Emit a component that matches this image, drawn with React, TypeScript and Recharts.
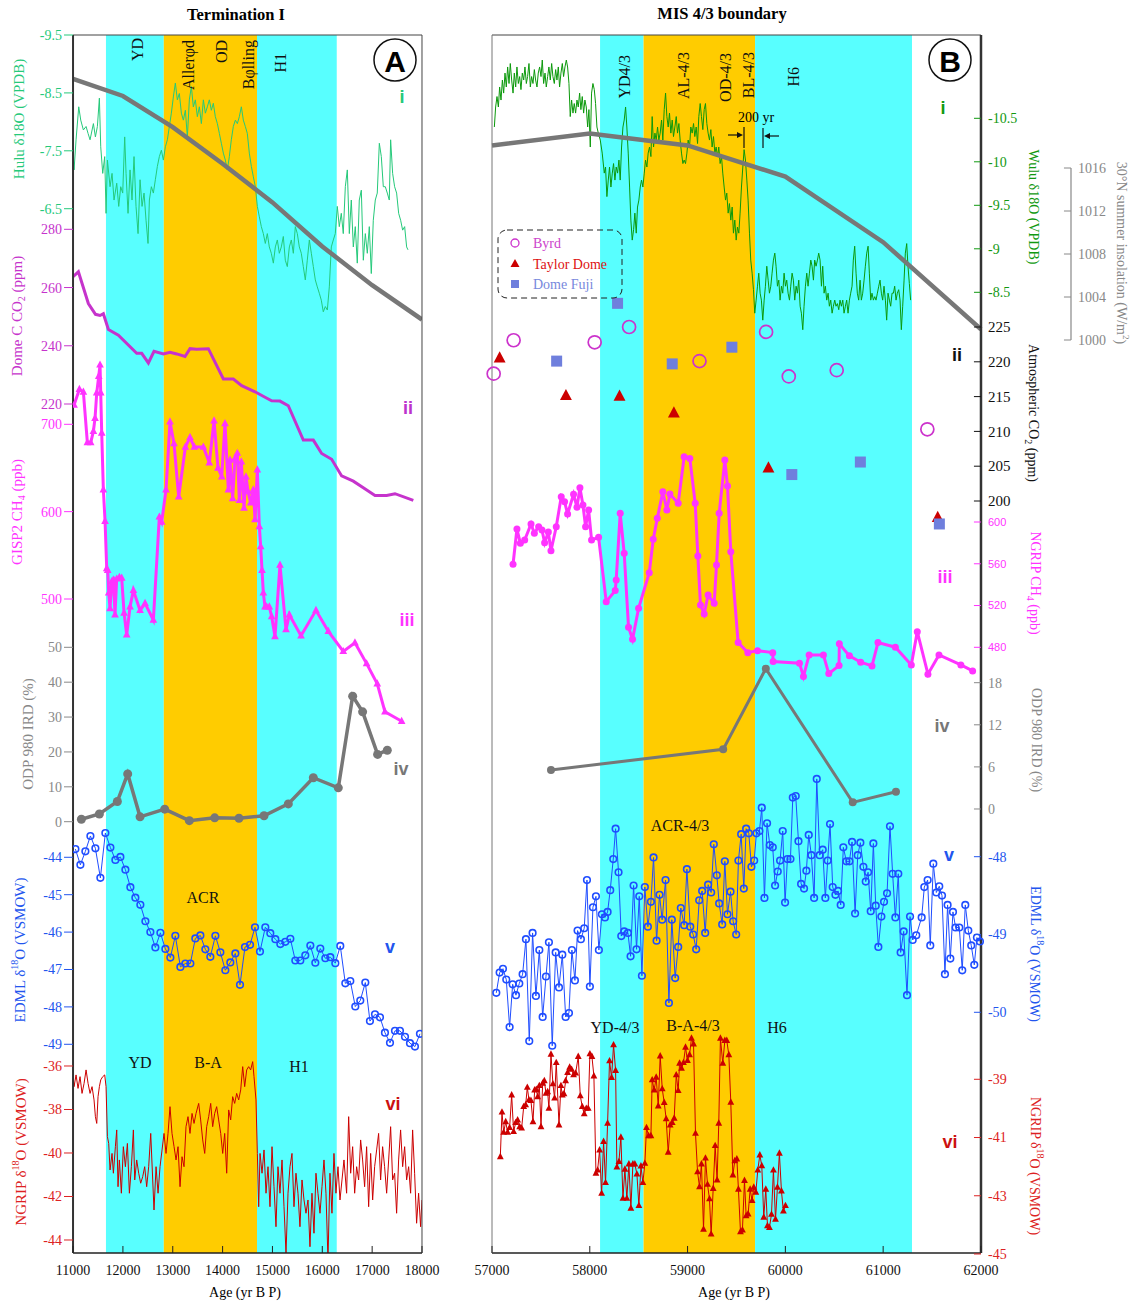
import React from "react";
import { ComposedChart, Line, Scatter, XAxis, YAxis, ReferenceArea } from "recharts";

type Pt = [number, number];
type Cal = [number, number, number, number];

// ---------- Panel A: Termination I ----------
const ageTicksA = [11000, 12000, 13000, 14000, 15000, 16000, 17000, 18000];
const bandsA: Pt[] = [[11660, 12820], [12820, 14690], [14690, 16290]];
const huluTicksA = [-9.5, -8.5, -7.5, -6.5];
const co2TicksA = [280, 260, 240, 220];
const ch4TicksA = [700, 600, 500];
const irdTicksA = [50, 40, 30, 20, 10, 0];
const edmlTicksA = [-44, -45, -46, -47, -48, -49];
const ngripTicksA = [-36, -38, -40, -42, -44];

const huluA: Pt[] = [
  [11000, -7.4], [11020, -7.17], [11060, -7.69], [11114, -8.26], [11154, -8.03], [11207, -7.86], [11261, -7.92], [11301, -7.8],
  [11341, -7.69], [11408, -7.97], [11448, -7.74], [11488, -7.92], [11528, -8.41], [11555, -7.57], [11595, -7.11], [11635, -7.4],
  [11662, -6.42], [11689, -7.34], [11742, -6.88], [11782, -7.11], [11822, -6.65], [11876, -6.94], [11916, -6.54], [11956, -6.88],
  [11996, -6.77], [12036, -7.74], [12063, -7.11], [12103, -6.42], [12143, -7.17], [12183, -6.65], [12223, -7.4], [12263, -6.54],
  [12304, -6.07], [12344, -7.0], [12384, -6.54], [12424, -6.77], [12464, -6.3], [12504, -5.9], [12531, -6.65], [12571, -6.88],
  [12611, -6.77], [12651, -7.0], [12691, -7.23], [12731, -7.4], [12772, -7.51], [12812, -7.34], [12852, -7.57], [12892, -7.69],
  [12932, -7.92], [12972, -8.15], [13012, -8.43], [13052, -8.67], [13092, -8.38], [13132, -8.49], [13173, -8.15], [13213, -8.03],
  [13253, -8.2], [13293, -7.74], [13333, -8.38], [13373, -8.61], [13413, -8.26], [13453, -8.38], [13493, -8.09], [13534, -8.26],
  [13574, -7.97], [13614, -8.38], [13654, -8.15], [13694, -8.26], [13734, -8.38], [13774, -8.2], [13814, -8.32], [13854, -8.09],
  [13895, -7.97], [13935, -7.8], [13975, -7.63], [14015, -7.46], [14055, -7.34], [14095, -7.17], [14135, -7.4], [14175, -7.69],
  [14215, -7.92], [14256, -8.03], [14296, -7.97], [14336, -8.09], [14376, -8.26], [14416, -8.03], [14456, -7.92], [14496, -7.8],
  [14536, -7.46], [14577, -7.23], [14617, -7.05], [14657, -6.88], [14697, -6.54], [14737, -6.36], [14777, -6.19], [14817, -6.07],
  [14857, -5.9], [14897, -6.07], [14937, -5.84], [14977, -5.73], [15018, -5.56], [15058, -5.84], [15098, -5.96], [15138, -5.73],
  [15178, -5.84], [15218, -6.02], [15258, -5.61], [15298, -5.5], [15339, -5.84], [15379, -5.96], [15419, -5.73], [15459, -6.19],
  [15499, -6.07], [15539, -5.84], [15579, -5.73], [15619, -5.5], [15659, -5.27], [15699, -5.61], [15740, -5.96], [15780, -5.73],
  [15820, -5.5], [15860, -5.27], [15900, -5.15], [15940, -5.04], [15980, -4.92], [16020, -4.72], [16061, -4.81], [16101, -4.75],
  [16141, -5.15], [16181, -5.84], [16221, -5.96], [16261, -6.07], [16301, -6.54], [16341, -6.19], [16381, -6.42], [16421, -6.07],
  [16462, -6.88], [16502, -7.17], [16542, -6.07], [16582, -6.65], [16622, -5.84], [16662, -6.19], [16702, -5.56], [16742, -6.65],
  [16783, -6.82], [16823, -5.61], [16863, -6.07], [16903, -5.73], [16943, -6.19], [16983, -5.38], [17023, -6.3], [17063, -6.65],
  [17103, -6.77], [17144, -7.63], [17184, -7.4], [17224, -6.88], [17264, -6.88], [17304, -6.77], [17344, -6.65], [17371, -7.69],
  [17411, -7.11], [17451, -6.88], [17491, -6.77], [17532, -6.42], [17572, -6.3], [17612, -6.13], [17652, -6.19], [17692, -5.84],
  [17719, -5.79],
];

const insolA: Pt[] = [
  [11000, 1024.3], [12000, 1022.7], [13000, 1019.8], [14000, 1016.4], [15000, 1012.8], [16000, 1008.7], [17000, 1005.1], [18000, 1001.9],
];

const co2A: Pt[] = [
  [11000, 263.7], [11107, 265.4], [11307, 254.5], [11450, 250.8], [11541, 250.4], [11608, 251.0], [11709, 245.6], [11909, 243.6],
  [12277, 237.4], [12377, 237.4], [12511, 234.1], [12624, 238.1], [12812, 237.2], [12945, 237.8], [13079, 237.2], [13246, 236.3],
  [13346, 239.0], [13480, 238.8], [13714, 239.0], [14015, 228.6], [14215, 228.6], [14383, 226.3], [14650, 224.2], [14851, 222.3],
  [14984, 221.1], [15151, 221.0], [15318, 219.4], [15619, 207.6], [15820, 207.6], [15987, 203.0], [16188, 201.0], [16388, 195.3],
  [16622, 193.5], [16823, 191.2], [17057, 188.6], [17291, 188.6], [17458, 189.2], [17826, 186.9],
];

const ch4A: Pt[] = [
  [11020, 722], [11127, 740], [11207, 737], [11287, 679], [11354, 679], [11408, 692], [11441, 707], [11475, 736],
  [11515, 755], [11541, 768], [11555, 736], [11575, 690], [11608, 625], [11642, 589], [11675, 535], [11695, 533],
  [11715, 507], [11742, 489], [11775, 520], [11809, 522], [11842, 482], [11875, 523], [11929, 525], [11976, 524],
  [12023, 484], [12076, 459], [12143, 491], [12210, 510], [12344, 487], [12444, 495], [12611, 476], [12731, 594],
  [12778, 588], [12865, 625], [12945, 703], [13025, 678], [13119, 617], [13253, 674], [13346, 685], [13433, 674],
  [13614, 674], [13734, 656], [13828, 704], [13908, 650], [13982, 640], [14048, 701], [14115, 625], [14149, 659],
  [14202, 615], [14249, 661], [14296, 667], [14336, 613], [14376, 657], [14429, 604], [14469, 640], [14510, 623],
  [14563, 610], [14617, 625], [14650, 591], [14697, 648], [14737, 583], [14764, 560], [14791, 533], [14817, 507],
  [14851, 491], [14884, 491], [14937, 491], [14984, 480], [15051, 457], [15151, 539], [15272, 465], [15339, 482],
  [15573, 458], [15873, 487], [16121, 463], [16421, 440], [16655, 450], [16889, 426], [17103, 403], [17257, 371],
  [17592, 360],
];

const irdA: Pt[] = [
  [11167, 0.7], [11528, 2.2], [11889, 5.8], [12096, 13.7], [12344, 1.4], [12838, 3.6], [13333, 0.3], [13841, 1.1],
  [14329, 1.0], [14831, 1.7], [15318, 5.1], [15820, 12.6], [16321, 9.7], [16609, 36.0], [16809, 31.5], [17110, 19.3],
  [17304, 20.5],
];

const edmlA: Pt[] = [
  [11047, -43.78], [11147, -44.2], [11247, -43.84], [11348, -43.43], [11448, -43.76], [11548, -44.55], [11648, -43.35], [11749, -43.74],
  [11849, -44.07], [11949, -43.99], [12050, -44.33], [12150, -44.8], [12250, -45.08], [12350, -45.27], [12451, -45.71], [12551, -46.0],
  [12651, -46.41], [12752, -46.02], [12852, -46.45], [12952, -46.68], [13052, -46.1], [13153, -46.93], [13253, -46.84], [13353, -46.84],
  [13453, -46.17], [13554, -46.09], [13654, -46.46], [13754, -46.66], [13855, -46.1], [13955, -46.54], [14055, -47.02], [14155, -46.81],
  [14256, -46.57], [14349, -47.41], [14449, -46.4], [14550, -46.34], [14650, -45.87], [14750, -46.52], [14857, -45.87], [14957, -46.03],
  [15058, -46.19], [15158, -46.32], [15258, -46.26], [15359, -46.18], [15459, -46.76], [15559, -46.76], [15659, -46.62], [15760, -46.36],
  [15860, -46.82], [15960, -46.44], [16061, -46.7], [16161, -46.67], [16261, -46.83], [16361, -46.37], [16462, -47.37], [16562, -47.31],
  [16662, -47.99], [16762, -47.83], [16863, -47.35], [16956, -48.38], [17057, -48.2], [17157, -48.28], [17257, -48.69], [17358, -48.96],
  [17458, -48.64], [17558, -48.64], [17659, -48.8], [17759, -48.97], [17859, -49.06], [17959, -48.72],
];

const ngripA: Pt[] = [
  [11000, -36.49], [11020, -36.95], [11060, -36.41], [11100, -37.03], [11140, -36.49], [11180, -37.26], [11221, -36.8], [11261, -36.18],
  [11301, -36.8], [11341, -37.26], [11381, -36.95], [11421, -37.56], [11448, -38.33], [11475, -38.64], [11501, -37.41], [11528, -36.95],
  [11555, -36.64], [11595, -36.49], [11635, -36.41], [11662, -36.95], [11689, -39.25], [11715, -39.56], [11742, -40.78], [11782, -40.02],
  [11809, -40.93], [11849, -39.71], [11876, -38.94], [11902, -41.55], [11929, -40.32], [11969, -41.85], [12009, -39.71], [12050, -40.63],
  [12090, -39.56], [12130, -41.85], [12170, -40.63], [12210, -38.94], [12237, -41.24], [12277, -40.32], [12317, -40.93], [12357, -41.39],
  [12397, -41.09], [12437, -40.63], [12477, -41.55], [12517, -40.63], [12558, -39.1], [12598, -41.24], [12624, -42.62], [12665, -40.63],
  [12705, -41.85], [12745, -40.63], [12785, -39.86], [12825, -39.1], [12865, -40.02], [12905, -39.1], [12945, -37.87], [12985, -39.1],
  [13026, -39.71], [13066, -40.32], [13106, -39.71], [13146, -41.55], [13186, -40.17], [13226, -40.63], [13266, -38.79], [13306, -38.33],
  [13346, -39.1], [13387, -38.18], [13427, -38.64], [13467, -38.18], [13520, -37.72], [13560, -38.48], [13601, -39.4], [13641, -40.02],
  [13681, -38.79], [13721, -38.33], [13761, -37.72], [13801, -38.79], [13841, -38.18], [13881, -37.87], [13921, -38.48], [13962, -39.1],
  [14002, -40.02], [14042, -39.1], [14082, -40.93], [14122, -38.02], [14162, -38.48], [14202, -37.41], [14242, -37.72], [14282, -37.26],
  [14323, -37.56], [14363, -37.1], [14403, -36.03], [14443, -36.95], [14483, -36.18], [14523, -36.03], [14563, -36.18], [14603, -35.8],
  [14630, -36.49], [14670, -37.56], [14697, -40.02], [14724, -42.47], [14751, -40.02], [14791, -40.93], [14831, -39.86], [14871, -41.85],
  [14911, -40.63], [14951, -42.47], [14991, -39.71], [15031, -41.55], [15071, -43.39], [15111, -40.63], [15151, -41.85], [15192, -40.32],
  [15232, -42.47], [15272, -44.61], [15312, -41.85], [15352, -40.63], [15392, -40.02], [15432, -42.47], [15472, -40.93], [15512, -41.85],
  [15552, -43.39], [15593, -41.24], [15633, -42.16], [15673, -42.77], [15713, -42.16], [15753, -44.31], [15793, -41.85], [15833, -43.69],
  [15873, -40.93], [15913, -41.85], [15954, -42.77], [15994, -41.55], [16034, -40.32], [16074, -41.85], [16114, -44.92], [16154, -40.93],
  [16194, -42.77], [16234, -40.02], [16274, -41.85], [16315, -40.63], [16355, -42.16], [16395, -41.24], [16435, -40.32], [16488, -41.85],
  [16529, -38.33], [16569, -40.93], [16609, -39.71], [16649, -41.85], [16689, -40.63], [16729, -41.24], [16769, -39.4], [16809, -40.32],
  [16849, -41.55], [16889, -39.71], [16930, -42.47], [16970, -40.02], [17010, -42.16], [17050, -40.63], [17090, -39.86], [17130, -39.1],
  [17170, -41.24], [17210, -39.71], [17250, -40.63], [17291, -41.85], [17331, -40.32], [17371, -38.79], [17411, -41.24], [17451, -40.93],
  [17491, -42.77], [17531, -40.32], [17571, -38.94], [17612, -40.63], [17652, -39.71], [17692, -41.24], [17732, -40.63], [17772, -41.85],
  [17812, -38.94], [17852, -40.93], [17892, -43.23], [17932, -41.85], [17972, -43.39], [17999, -42.16],
];

// ---------- Panel B: MIS 4/3 boundary ----------
const ageTicksB = [57000, 58000, 59000, 60000, 61000, 62000];
const bandsB: Pt[] = [[58105, 58550], [58550, 59690], [59690, 61295]];
const wuluTicksB = [-10.5, -10, -9.5, -9, -8.5];
const insolTicks = [1016, 1012, 1008, 1004, 1000];
const co2TicksB = [225, 220, 215, 210, 205, 200];
const ch4TicksB = [600, 560, 520, 480];
const irdTicksB = [18, 12, 6, 0];
const edmlTicksB = [-48, -49, -50];
const ngripTicksB = [-39, -41, -43, -45];

const wuluB: Pt[] = [
  [57024, -10.4], [57037, -10.63], [57051, -10.75], [57065, -10.63], [57078, -10.86], [57092, -10.71], [57106, -10.94], [57119, -10.79],
  [57133, -11.02], [57146, -10.86], [57160, -11.09], [57174, -10.9], [57187, -11.13], [57201, -10.94], [57215, -10.79], [57228, -11.02],
  [57242, -10.86], [57255, -11.09], [57269, -10.9], [57283, -10.98], [57296, -10.83], [57310, -11.02], [57324, -10.94], [57337, -11.09],
  [57351, -10.9], [57364, -10.98], [57378, -11.13], [57392, -10.86], [57405, -10.98], [57419, -10.9], [57433, -11.06], [57446, -10.94],
  [57460, -10.86], [57473, -11.02], [57487, -11.09], [57501, -10.98], [57514, -11.17], [57528, -10.9], [57542, -11.02], [57555, -10.86],
  [57569, -10.98], [57582, -11.09], [57596, -10.94], [57610, -11.13], [57623, -10.98], [57637, -10.9], [57651, -11.06], [57664, -10.94],
  [57678, -11.09], [57691, -10.86], [57705, -11.02], [57719, -11.13], [57732, -10.98], [57746, -11.09], [57760, -11.17], [57773, -11.09],
  [57787, -10.9], [57800, -10.52], [57814, -10.71], [57828, -10.56], [57841, -10.67], [57855, -10.56], [57869, -10.71], [57882, -10.63],
  [57896, -10.79], [57909, -10.6], [57923, -10.75], [57937, -10.56], [57950, -10.71], [57964, -10.63], [57978, -10.4], [57991, -10.6],
  [58005, -10.17], [58018, -10.79], [58032, -10.9], [58046, -10.83], [58059, -10.67], [58073, -10.4], [58087, -10.33], [58107, -10.25],
  [58127, -10.1], [58148, -9.87], [58161, -9.94], [58175, -9.6], [58189, -9.79], [58202, -9.94], [58216, -9.71], [58230, -9.87],
  [58243, -9.98], [58257, -9.79], [58270, -9.94], [58284, -9.87], [58298, -10.02], [58311, -9.79], [58325, -10.17], [58339, -10.4],
  [58352, -10.48], [58366, -10.63], [58379, -10.4], [58393, -10.1], [58407, -9.71], [58420, -9.33], [58434, -9.1], [58448, -9.22],
  [58461, -9.41], [58475, -9.18], [58488, -9.48], [58502, -9.56], [58516, -9.71], [58529, -9.79], [58543, -9.71], [58557, -9.87],
  [58570, -10.02], [58584, -9.94], [58597, -10.1], [58611, -10.17], [58625, -10.06], [58638, -10.52], [58652, -10.17], [58666, -10.33],
  [58679, -10.25], [58693, -10.4], [58706, -10.25], [58720, -10.33], [58734, -10.48], [58747, -10.25], [58761, -10.6], [58775, -10.79],
  [58788, -10.52], [58802, -10.4], [58815, -10.56], [58829, -10.33], [58843, -10.48], [58856, -10.29], [58870, -10.4], [58884, -10.52],
  [58897, -10.33], [58911, -10.44], [58924, -10.25], [58938, -10.1], [58952, -9.98], [58965, -10.02], [58979, -9.98], [58993, -10.1],
  [59006, -10.25], [59020, -10.17], [59033, -10.4], [59047, -10.33], [59061, -10.44], [59074, -10.29], [59088, -10.4], [59102, -10.21],
  [59115, -10.52], [59129, -10.67], [59142, -10.52], [59156, -10.37], [59170, -10.6], [59183, -10.67], [59197, -10.44], [59210, -10.33],
  [59224, -10.25], [59238, -10.37], [59251, -10.17], [59265, -10.29], [59279, -10.1], [59292, -10.17], [59306, -10.06], [59319, -10.17],
  [59333, -9.98], [59347, -10.06], [59360, -9.87], [59374, -9.71], [59388, -9.56], [59401, -9.64], [59415, -9.41], [59428, -9.52],
  [59442, -9.33], [59456, -9.48], [59469, -9.18], [59483, -9.33], [59497, -9.1], [59510, -9.25], [59524, -9.18], [59537, -9.41],
  [59551, -9.71], [59565, -9.94], [59578, -10.14], [59592, -10.02], [59606, -9.79], [59619, -9.56], [59633, -9.18], [59646, -8.87],
  [59660, -8.72], [59674, -8.53], [59687, -8.26], [59701, -8.41], [59715, -8.57], [59728, -8.72], [59742, -8.49], [59755, -8.41],
  [59769, -8.18], [59783, -8.41], [59796, -8.57], [59810, -8.8], [59824, -8.64], [59837, -8.49], [59851, -8.57], [59864, -8.72],
  [59878, -8.87], [59892, -8.95], [59905, -8.8], [59919, -8.57], [59933, -8.64], [59946, -8.41], [59960, -8.57], [59973, -8.49],
  [59987, -8.72], [60001, -8.57], [60014, -8.64], [60028, -8.49], [60042, -8.41], [60055, -8.57], [60069, -8.72], [60082, -8.64],
  [60096, -8.41], [60110, -8.57], [60123, -8.49], [60137, -8.64], [60151, -8.34], [60164, -8.26], [60178, -8.07], [60191, -8.34],
  [60205, -8.57], [60219, -8.72], [60232, -8.57], [60246, -8.72], [60260, -8.87], [60273, -8.8], [60287, -8.64], [60300, -8.87],
  [60314, -8.8], [60328, -8.87], [60341, -8.95], [60355, -8.87], [60369, -8.57], [60382, -8.8], [60396, -8.49], [60409, -8.57],
  [60423, -8.41], [60437, -8.49], [60450, -8.34], [60464, -8.41], [60478, -8.26], [60491, -8.34], [60505, -8.41], [60518, -8.34],
  [60532, -8.37], [60546, -8.3], [60559, -8.41], [60573, -8.34], [60587, -8.41], [60600, -8.26], [60614, -8.34], [60627, -8.41],
  [60641, -8.26], [60655, -8.41], [60668, -8.49], [60682, -8.57], [60695, -8.87], [60709, -9.03], [60723, -8.72], [60736, -8.49],
  [60750, -8.41], [60764, -8.64], [60777, -8.41], [60791, -8.49], [60805, -8.64], [60818, -8.8], [60832, -8.95], [60846, -9.03],
  [60859, -8.72], [60873, -8.41], [60886, -8.49], [60900, -8.41], [60914, -8.45], [60927, -8.41], [60941, -8.49], [60955, -8.57],
  [60968, -8.64], [60982, -8.49], [60995, -8.41], [61009, -8.57], [61023, -8.41], [61036, -8.18], [61050, -8.49], [61064, -8.41],
  [61077, -8.34], [61091, -8.49], [61105, -8.49], [61118, -8.57], [61132, -8.41], [61145, -8.49], [61159, -8.53], [61173, -8.41],
  [61186, -8.07], [61200, -8.34], [61214, -8.64], [61227, -8.95], [61241, -9.06], [61254, -8.8], [61268, -8.6], [61281, -8.41],
];

const insolB: Pt[] = [[57000, 1018.1], [58000, 1019.2], [59000, 1018.1], [60000, 1015.2], [61000, 1009.1], [62000, 1001.0]];

const co2Byrd: Pt[] = [
  [57017, 218.3], [57221, 223.1], [58050, 222.8], [58402, 225.0], [59122, 220.1], [59803, 224.3], [60035, 217.9], [60525, 218.8], [61452, 210.3],
];
const co2Taylor: Pt[] = [[57078, 220.5], [57756, 215.1], [58304, 215.0], [58860, 212.6], [59827, 204.7], [61558, 197.6]];
const co2Fuji: Pt[] = [[57661, 220.1], [58284, 228.4], [58843, 219.7], [59453, 222.1], [60066, 203.8], [60767, 205.6], [61575, 196.7]];

const ch4B: Pt[] = [
  [57215, 559.5], [57255, 593.3], [57290, 579.6], [57334, 582.8], [57399, 598.1], [57433, 589.2], [57477, 595.5], [57511, 592.3],
  [57538, 580.2], [57576, 590.4], [57603, 572.5], [57657, 595.5], [57708, 624.2], [57742, 619.4], [57773, 607.7], [57834, 626.5],
  [57869, 614.1], [57899, 632.8], [57930, 616.3], [57957, 595.5], [57988, 611.5], [58018, 582.8], [58090, 585.4], [58168, 523.7],
  [58260, 534.3], [58270, 544.5], [58311, 608.3], [58352, 570.0], [58396, 499.2], [58437, 487.7], [58499, 517.4], [58608, 551.5],
  [58649, 583.4], [58690, 603.5], [58747, 629.0], [58788, 611.5], [58819, 626.8], [58904, 617.9], [58965, 662.5], [59023, 660.9],
  [59078, 617.9], [59105, 567.5], [59132, 520.6], [59170, 512.0], [59210, 530.1], [59272, 522.2], [59296, 558.9], [59323, 608.3],
  [59381, 659.3], [59408, 634.4], [59442, 571.6], [59517, 484.5], [59616, 474.9], [59715, 476.8], [59871, 474.9], [59875, 466.3],
  [60144, 464.8], [60185, 452.0], [60243, 472.7], [60389, 472.7], [60444, 454.8], [60549, 462.5], [60552, 483.3], [60655, 471.8],
  [60770, 465.7], [60886, 462.2], [60947, 484.5], [61125, 480.1], [61288, 463.1], [61349, 495.0], [61458, 454.3], [61571, 472.7],
  [61795, 463.1], [61915, 457.4],
];

const irdB: Pt[] = [[57603, 5.56], [59364, 8.5], [59800, 20.0], [60689, 0.95], [61131, 2.46]];

const edmlB: Pt[] = [
  [57044, -49.75], [57078, -49.49], [57112, -49.44], [57146, -49.58], [57180, -50.19], [57211, -49.64], [57245, -49.78], [57279, -49.63],
  [57313, -49.51], [57347, -49.06], [57381, -50.37], [57415, -48.98], [57449, -49.79], [57484, -49.2], [57518, -50.06], [57552, -49.54],
  [57582, -49.1], [57616, -50.43], [57651, -49.23], [57685, -49.68], [57719, -49.26], [57753, -50.06], [57787, -50.01], [57817, -49.2],
  [57848, -49.59], [57875, -48.95], [57909, -49.06], [57943, -48.92], [57971, -48.3], [58001, -49.67], [58032, -48.65], [58063, -48.51],
  [58093, -49.2], [58124, -48.74], [58155, -48.78], [58182, -48.71], [58209, -48.43], [58240, -48.03], [58264, -47.64], [58294, -48.2],
  [58322, -49.02], [58352, -48.96], [58390, -48.98], [58417, -49.28], [58448, -48.37], [58478, -49.19], [58506, -48.51], [58533, -49.53],
  [58563, -48.39], [58594, -48.9], [58625, -48.58], [58652, -48.01], [58683, -49.08], [58713, -48.49], [58740, -48.81], [58775, -48.3],
  [58809, -49.88], [58839, -48.81], [58873, -49.56], [58904, -49.16], [58931, -48.66], [58965, -48.88], [58993, -48.16], [59027, -48.9],
  [59057, -49.0], [59088, -49.19], [59119, -48.56], [59149, -48.44], [59180, -48.98], [59210, -48.36], [59241, -48.46], [59268, -47.84],
  [59299, -48.24], [59323, -48.6], [59354, -48.87], [59381, -48.06], [59408, -48.74], [59439, -48.45], [59466, -48.83], [59497, -49.0],
  [59520, -48.05], [59548, -47.71], [59575, -48.41], [59599, -47.64], [59626, -47.7], [59653, -48.13], [59681, -48.05], [59704, -47.7],
  [59735, -47.67], [59759, -47.37], [59786, -48.53], [59813, -47.57], [59841, -47.85], [59871, -47.88], [59895, -48.37], [59922, -48.19],
  [59946, -48.05], [59973, -47.67], [59997, -48.59], [60021, -48.03], [60052, -48.03], [60076, -47.24], [60106, -47.22], [60134, -47.8],
  [60161, -48.35], [60191, -48.41], [60215, -48.18], [60239, -47.72], [60266, -47.98], [60294, -48.53], [60321, -47.0], [60351, -47.98],
  [60382, -47.91], [60409, -48.53], [60433, -48.05], [60457, -47.58], [60484, -48.39], [60512, -48.49], [60539, -48.44], [60566, -48.62],
  [60593, -47.88], [60624, -48.06], [60655, -48.06], [60682, -47.81], [60713, -48.73], [60740, -47.98], [60767, -47.82], [60798, -48.13],
  [60822, -48.32], [60846, -48.2], [60873, -48.7], [60900, -47.83], [60924, -48.63], [60951, -49.16], [60982, -48.77], [61009, -48.58],
  [61040, -48.47], [61070, -47.61], [61097, -48.22], [61125, -48.78], [61155, -48.22], [61179, -49.23], [61210, -48.96], [61244, -49.78],
  [61275, -48.77], [61302, -49.07], [61339, -49.01], [61394, -48.78], [61421, -48.39], [61455, -48.3], [61482, -49.14], [61513, -48.09],
  [61544, -48.46], [61574, -48.38], [61602, -48.5], [61632, -49.51], [61659, -48.62], [61687, -49.31], [61714, -48.71], [61741, -48.91],
  [61779, -48.91], [61809, -49.46], [61840, -48.62], [61871, -48.95], [61901, -49.14], [61932, -49.39], [61959, -49.04], [61990, -49.09],
];

const ngripB: Pt[] = [
  [57085, -41.66], [57102, -40.13], [57119, -40.82], [57140, -40.46], [57160, -40.82], [57180, -40.66], [57201, -39.54], [57221, -40.8],
  [57242, -40.49], [57262, -40.4], [57283, -40.63], [57303, -40.68], [57324, -39.94], [57344, -39.88], [57361, -39.28], [57378, -39.71],
  [57398, -39.73], [57419, -40.46], [57436, -39.37], [57453, -39.35], [57467, -39.6], [57484, -39.22], [57501, -40.63], [57518, -39.14],
  [57535, -39.05], [57552, -39.48], [57569, -39.43], [57582, -40.0], [57603, -38.14], [57623, -39.16], [57640, -39.65], [57657, -38.43],
  [57685, -40.57], [57705, -39.22], [57719, -39.54], [57736, -39.5], [57753, -39.05], [57773, -38.77], [57794, -38.59], [57814, -38.66],
  [57834, -38.85], [57855, -38.79], [57882, -38.22], [57903, -39.57], [57923, -39.94], [57943, -40.19], [57964, -40.0], [57984, -40.0],
  [58001, -38.13], [58022, -38.22], [58042, -38.89], [58063, -42.23], [58080, -42.12], [58100, -41.43], [58121, -42.92], [58141, -41.14],
  [58161, -42.55], [58182, -40.51], [58202, -38.37], [58223, -38.94], [58243, -37.82], [58264, -38.7], [58277, -42.02], [58298, -41.83],
  [58318, -40.99], [58339, -43.09], [58359, -42.09], [58379, -43.09], [58400, -41.91], [58420, -43.43], [58441, -41.91], [58461, -41.91],
  [58482, -42.26], [58502, -43.34], [58523, -41.98], [58543, -42.55], [58563, -41.89], [58580, -40.66], [58601, -40.94], [58625, -40.94],
  [58638, -39.02], [58659, -39.37], [58679, -38.93], [58700, -39.92], [58720, -38.2], [58741, -39.33], [58761, -39.8], [58781, -40.36],
  [58802, -41.51], [58822, -40.57], [58843, -40.49], [58863, -40.34], [58884, -38.85], [58904, -39.39], [58918, -38.45], [58938, -38.62],
  [58958, -38.43], [58979, -37.9], [58999, -38.36], [59020, -38.16], [59040, -37.59], [59061, -37.79], [59081, -40.86], [59102, -42.18],
  [59122, -42.69], [59142, -41.91], [59163, -44.15], [59183, -41.71], [59204, -42.61], [59224, -43.11], [59241, -44.32], [59262, -42.75],
  [59282, -41.28], [59302, -42.46], [59319, -40.51], [59336, -37.59], [59360, -38.45], [59381, -37.67], [59401, -37.67], [59422, -38.16],
  [59442, -39.79], [59463, -42.29], [59483, -41.8], [59504, -41.74], [59520, -42.78], [59541, -44.24], [59561, -44.18], [59582, -42.48],
  [59599, -43.69], [59619, -43.63], [59640, -42.78], [59660, -43.17], [59677, -42.71], [59698, -42.88], [59718, -42.12], [59739, -41.6],
  [59759, -41.97], [59779, -43.74], [59800, -42.78], [59817, -44.03], [59837, -44.09], [59858, -43.64], [59878, -42.12], [59899, -43.81],
  [59919, -42.71], [59939, -41.54], [59960, -42.84], [59980, -43.53], [60001, -43.34],
];

// ---------- layout ----------
const PLOT_TOP = 35;
const PLOT_BOTTOM = 1253;
const THIN = 0.01; // axes need a positive size to render, but must not push each other aside
const SERIF = "'Liberation Serif', 'Times New Roman', serif";
const SANS = "'Liberation Sans', Arial, sans-serif";
const CYAN = "#58ffff";
const ORANGE = "#ffcc00";

// value/pixel calibration pairs
const CAL = {
  huluA: [-9.5, 35, -6.5, 208.7] as Cal,
  insol: [1016, 168, 1000, 340] as Cal,
  co2A: [280, 229.3, 220, 404] as Cal,
  ch4A: [700, 424.3, 500, 599] as Cal,
  irdA: [50, 647.3, 0, 821.7] as Cal,
  edmlA: [-44, 857.3, -49, 1044.3] as Cal,
  ngripA: [-36, 1066, -44, 1240] as Cal,
  wuluB: [-10.5, 118.3, -8.5, 292.3] as Cal,
  co2B: [225, 327, 200, 501] as Cal,
  ch4B: [600, 522, 480, 647.3] as Cal,
  irdB: [18, 682.7, 0, 809] as Cal,
  edmlB: [-48, 856.7, -50, 1012.3] as Cal,
  ngripB: [-39, 1079.3, -45, 1254] as Cal,
};

function fit(c: Cal) {
  const [v1, p1, v2, p2] = c;
  const k = (v2 - v1) / (p2 - p1);
  const top = v1 + k * (PLOT_TOP - p1);
  const bottom = v1 + k * (PLOT_BOTTOM - p1);
  return bottom < top
    ? { domain: [bottom, top] as [number, number], reversed: false }
    : { domain: [top, bottom] as [number, number], reversed: true };
}

const rows = (pts: Pt[]) => pts.map(([x, y]) => ({ x, y }));

const yBase = {
  width: THIN,
  tickSize: 0,
  tickMargin: 0,
  tickLine: false,
  axisLine: false,
  allowDataOverflow: true,
  interval: 0 as const,
  type: "number" as const,
  dataKey: "y",
};

const leftTick = (color: string, size = 14, font = SERIF) => (p: any) => (
  <g>
    <line x1={p.x - 9} x2={p.x} y1={p.y} y2={p.y} stroke={color} strokeWidth={1} />
    <text x={p.x - 11} y={p.y} dy={5} textAnchor="end" fill={color} fontSize={size} fontFamily={font}>
      {p.payload.value}
    </text>
  </g>
);

const rightTick = (color: string, size = 14, font = SERIF, dx = 0) => (p: any) => (
  <g>
    <line x1={p.x + dx - 7} x2={p.x + dx} y1={p.y} y2={p.y} stroke={color} strokeWidth={1} />
    <text x={p.x + dx + 7} y={p.y} dy={size * 0.35} textAnchor="start" fill={color} fontSize={size} fontFamily={font}>
      {p.payload.value}
    </text>
  </g>
);

const ageTick = (p: any) => (
  <g>
    <line x1={p.x} x2={p.x} y1={p.y} y2={p.y - 7} stroke="#222" strokeWidth={1} />
    <text x={p.x} y={p.y + 22} textAnchor="middle" fontSize={14} fontFamily={SERIF} fill="#111">
      {p.payload.value}
    </text>
  </g>
);

const ringDot = (color: string, r: number, w = 1.4) => (p: any) => (
  <circle key={`r${p.index}`} cx={p.cx} cy={p.cy} r={r} fill="none" stroke={color} strokeWidth={w} />
);
const fillDot = (color: string, r: number) => (p: any) => (
  <circle key={`f${p.index}`} cx={p.cx} cy={p.cy} r={r} fill={color} />
);
const triDot = (color: string, s: number) => (p: any) => (
  <path
    key={`t${p.index}`}
    d={`M${p.cx},${p.cy - s} L${p.cx + s * 0.85},${p.cy + s * 0.6} L${p.cx - s * 0.85},${p.cy + s * 0.6} Z`}
    fill={color}
  />
);
const squareShape = (color: string, s: number) => (p: any) => (
  <rect x={p.cx - s / 2} y={p.cy - s / 2} width={s} height={s} fill={color} />
);

const C = {
  hulu: "#25c97a",
  wulu: "#0b990b",
  co2A: "#c633cc",
  ch4: "#ff33ff",
  ird: "#777777",
  edml: "#1f4dff",
  ngrip: "#cc0000",
  insol: "#777777",
};

const PanelA = () => (
  <ComposedChart width={445} height={1301} margin={{ top: 35, right: 23, bottom: 48, left: 73 }}>
    <XAxis
      xAxisId="age"
      type="number"
      dataKey="x"
      domain={[11000, 18000]}
      allowDataOverflow
      ticks={ageTicksA}
      interval={0}
      height={THIN}
      tickSize={0}
      tickMargin={0}
      tickLine={false}
      tick={ageTick}
      axisLine={{ stroke: "#222", strokeWidth: 1.5 }}
    />
    <XAxis xAxisId="top" orientation="top" type="number" domain={[11000, 18000]} height={THIN} tick={false} tickLine={false} axisLine={{ stroke: "#444" }} />
    <YAxis yAxisId="hulu" {...yBase} {...fit(CAL.huluA)} ticks={huluTicksA} tick={leftTick(C.hulu)} axisLine={{ stroke: "#333", strokeWidth: 2 }} />
    <YAxis yAxisId="co2" {...yBase} {...fit(CAL.co2A)} ticks={co2TicksA} tick={leftTick(C.co2A)} />
    <YAxis yAxisId="ch4" {...yBase} {...fit(CAL.ch4A)} ticks={ch4TicksA} tick={leftTick(C.ch4)} />
    <YAxis yAxisId="ird" {...yBase} {...fit(CAL.irdA)} ticks={irdTicksA} tick={leftTick("#888")} />
    <YAxis yAxisId="edml" {...yBase} {...fit(CAL.edmlA)} ticks={edmlTicksA} tick={leftTick("#2255ee")} />
    <YAxis yAxisId="ngrip" {...yBase} {...fit(CAL.ngripA)} ticks={ngripTicksA} tick={leftTick("#dd2222")} />
    <YAxis yAxisId="insol" {...yBase} {...fit(CAL.insol)} hide />
    <YAxis yAxisId="frame" orientation="right" width={THIN} domain={[0, 1]} tick={false} tickLine={false} axisLine={{ stroke: "#444" }} />

    {bandsA.map(([a, b], i) => (
      <ReferenceArea key={`ba${i}`} xAxisId="age" yAxisId="hulu" x1={a} x2={b} fill={i === 1 ? ORANGE : CYAN} fillOpacity={1} stroke="none" ifOverflow="hidden" />
    ))}

    <Line xAxisId="age" yAxisId="hulu" data={rows(huluA)} dataKey="y" stroke={C.hulu} strokeWidth={1} dot={false} isAnimationActive={false} />
    <Line xAxisId="age" yAxisId="insol" data={rows(insolA)} dataKey="y" stroke={C.insol} strokeWidth={4.5} dot={false} isAnimationActive={false} />
    <Line xAxisId="age" yAxisId="co2" data={rows(co2A)} dataKey="y" stroke={C.co2A} strokeWidth={3} dot={false} isAnimationActive={false} />
    <Line xAxisId="age" yAxisId="ch4" data={rows(ch4A)} dataKey="y" stroke={C.ch4} strokeWidth={3} dot={triDot(C.ch4, 4.5)} isAnimationActive={false} />
    <Line xAxisId="age" yAxisId="ird" data={rows(irdA)} dataKey="y" stroke={C.ird} strokeWidth={3.5} dot={fillDot(C.ird, 4.5)} isAnimationActive={false} />
    <Line xAxisId="age" yAxisId="edml" data={rows(edmlA)} dataKey="y" stroke={C.edml} strokeWidth={1} dot={ringDot(C.edml, 3.3, 1.6)} isAnimationActive={false} />
    <Line xAxisId="age" yAxisId="ngrip" data={rows(ngripA)} dataKey="y" stroke={C.ngrip} strokeWidth={1} dot={false} isAnimationActive={false} />
  </ComposedChart>
);

const PanelB = () => (
  <ComposedChart width={683} height={1301} margin={{ top: 35, right: 152, bottom: 48, left: 42 }}>
    <XAxis
      xAxisId="age"
      type="number"
      dataKey="x"
      domain={[57000, 62000]}
      ticks={ageTicksB}
      interval={0}
      height={THIN}
      tickSize={0}
      tickMargin={0}
      tickLine={false}
      tick={ageTick}
      axisLine={{ stroke: "#222", strokeWidth: 1.5 }}
    />
    <XAxis xAxisId="top" orientation="top" type="number" domain={[57000, 62000]} height={THIN} tick={false} tickLine={false} axisLine={{ stroke: "#444" }} />
    <YAxis yAxisId="frame" orientation="left" width={THIN} domain={[0, 1]} tick={false} tickLine={false} axisLine={{ stroke: "#777" }} />
    <YAxis yAxisId="wulu" orientation="right" {...yBase} {...fit(CAL.wuluB)} ticks={wuluTicksB} tick={rightTick("#119911", 14)} axisLine={{ stroke: "#333", strokeWidth: 2.5 }} />
    <YAxis yAxisId="insol" orientation="right" {...yBase} {...fit(CAL.insol)} ticks={insolTicks} tick={rightTick("#888", 14, SERIF, 90)} />
    <YAxis yAxisId="co2" orientation="right" {...yBase} {...fit(CAL.co2B)} allowDataOverflow={false} ticks={co2TicksB} tick={rightTick("#111", 15)} />
    <YAxis yAxisId="ch4" orientation="right" {...yBase} {...fit(CAL.ch4B)} ticks={ch4TicksB} tick={rightTick(C.ch4, 11, SANS)} />
    <YAxis yAxisId="ird" orientation="right" {...yBase} {...fit(CAL.irdB)} ticks={irdTicksB} tick={rightTick("#888", 14)} />
    <YAxis yAxisId="edml" orientation="right" {...yBase} {...fit(CAL.edmlB)} ticks={edmlTicksB} tick={rightTick("#2255ee", 14)} />
    <YAxis yAxisId="ngrip" orientation="right" {...yBase} {...fit(CAL.ngripB)} ticks={ngripTicksB} tick={rightTick("#dd2222", 14)} />

    {bandsB.map(([a, b], i) => (
      <ReferenceArea key={`bb${i}`} xAxisId="age" yAxisId="wulu" x1={a} x2={b} fill={i === 1 ? ORANGE : CYAN} fillOpacity={1} stroke="none" ifOverflow="hidden" />
    ))}

    <Line xAxisId="age" yAxisId="wulu" data={rows(wuluB)} dataKey="y" stroke={C.wulu} strokeWidth={1} dot={false} isAnimationActive={false} />
    <Line xAxisId="age" yAxisId="insol" data={rows(insolB)} dataKey="y" stroke={C.insol} strokeWidth={4.5} dot={false} isAnimationActive={false} />
    <Scatter xAxisId="age" yAxisId="co2" data={rows(co2Byrd)} shape={ringDot("#cc33cc", 6.5, 1.7)} isAnimationActive={false} />
    <Scatter xAxisId="age" yAxisId="co2" data={rows(co2Taylor)} shape={triDot("#cc0000", 7)} isAnimationActive={false} />
    <Scatter xAxisId="age" yAxisId="co2" data={rows(co2Fuji)} shape={squareShape("#6f7fdd", 11)} isAnimationActive={false} />
    <Line xAxisId="age" yAxisId="ch4" data={rows(ch4B)} dataKey="y" stroke={C.ch4} strokeWidth={3} dot={fillDot(C.ch4, 3.5)} isAnimationActive={false} />
    <Line xAxisId="age" yAxisId="ird" data={rows(irdB)} dataKey="y" stroke={C.ird} strokeWidth={3} dot={fillDot(C.ird, 4)} isAnimationActive={false} />
    <Line xAxisId="age" yAxisId="edml" data={rows(edmlB)} dataKey="y" stroke={C.edml} strokeWidth={1} dot={ringDot(C.edml, 3.3, 1.6)} isAnimationActive={false} />
    <Line xAxisId="age" yAxisId="ngrip" data={rows(ngripB)} dataKey="y" stroke={C.ngrip} strokeWidth={1} dot={triDot(C.ngrip, 4)} isAnimationActive={false} />
  </ComposedChart>
);

const VText = ({ x, y, angle, color, size = 15, children }: any) => (
  <text
    transform={`translate(${x},${y}) rotate(${angle})`}
    textAnchor="middle"
    dominantBaseline="central"
    fill={color}
    fontSize={size}
    fontFamily={SERIF}
  >
    {children}
  </text>
);

const BandLabel = ({ x, top, children, size = 16 }: any) => (
  <text transform={`translate(${x},${top}) rotate(-90)`} textAnchor="end" dominantBaseline="central" fontSize={size} fontFamily={SERIF} fill="#111">
    {children}
  </text>
);

const Num = ({ x, y, color, children }: any) => (
  <text x={x} y={y} textAnchor="middle" dominantBaseline="central" fontSize={18} fontWeight="bold" fontFamily={SANS} fill={color}>
    {children}
  </text>
);

const Plain = ({ x, y, children, size = 16 }: any) => (
  <text x={x} y={y} textAnchor="middle" dominantBaseline="central" fontSize={size} fontFamily={SERIF} fill="#111">
    {children}
  </text>
);

const sup = (t: string, up = 6, fs = 10) => [
  <tspan key="a" dy={-up} fontSize={fs}>{t}</tspan>,
];

const Overlay = () => (
  <svg width={1133} height={1301} style={{ position: "absolute", left: 0, top: 0, pointerEvents: "none" }}>
    <text x={236} y={20} textAnchor="middle" fontSize={16.5} fontWeight="bold" fontFamily={SERIF}>Termination I</text>
    <text x={722} y={19} textAnchor="middle" fontSize={16.5} fontWeight="bold" fontFamily={SERIF}>MIS 4/3 boundary</text>
    <text x={245} y={1297} textAnchor="middle" fontSize={14} fontFamily={SERIF}>Age (yr B P)</text>
    <text x={734} y={1297} textAnchor="middle" fontSize={14} fontFamily={SERIF}>Age (yr B P)</text>

    {/* panel A axis titles */}
    <VText x={19} y={119} angle={-90} color={C.hulu}>Hulu δ18O (VPDB)</VText>
    <VText x={17} y={316} angle={-90} color={C.co2A}>
      Dome C CO<tspan dy={4} fontSize={10}>2</tspan><tspan dy={-4}> (ppm)</tspan>
    </VText>
    <VText x={17} y={512} angle={-90} color={C.ch4}>
      GISP2 CH<tspan dy={4} fontSize={10}>4</tspan><tspan dy={-4}> (ppb)</tspan>
    </VText>
    <VText x={28} y={734} angle={-90} color="#888">ODP 980 IRD (%)</VText>
    <VText x={20} y={950} angle={-90} color="#2255ee">
      EDML δ{sup("18")}<tspan dy={6}>O (VSMOW)</tspan>
    </VText>
    <VText x={21} y={1152} angle={-90} color="#dd2222">
      NGRIP δ{sup("18")}<tspan dy={6}>O (VSMOW)</tspan>
    </VText>

    {/* panel B axis titles */}
    <VText x={1033} y={207} angle={90} color="#119911" size={14}>Wulu δ18O (VPDB)</VText>
    <VText x={1121} y={253} angle={90} color="#888" size={14}>
      30°N summer insolation (W/m{sup("2", 5, 9)}<tspan dy={5}>)</tspan>
    </VText>
    <VText x={1033} y={413} angle={90} color="#111" size={14}>
      Atmospheric CO<tspan dy={4} fontSize={10}>2</tspan><tspan dy={-4}> (ppm)</tspan>
    </VText>
    <VText x={1035} y={583} angle={90} color={C.ch4} size={14}>
      NGRIP CH<tspan dy={4} fontSize={10}>4</tspan><tspan dy={-4}> (ppb)</tspan>
    </VText>
    <VText x={1036} y={740} angle={90} color="#888" size={14}>ODP 980 IRD (%)</VText>
    <VText x={1035} y={954} angle={90} color="#2255ee" size={14}>
      EDML δ{sup("18")}<tspan dy={6}>O (VSMOW)</tspan>
    </VText>
    <VText x={1035} y={1166} angle={90} color="#dd2222" size={14}>
      NGRIP δ{sup("18")}<tspan dy={6}>O (VSMOW)</tspan>
    </VText>
    <line x1={1071} x2={1071} y1={CAL.insol[1]} y2={CAL.insol[3]} stroke="#888" strokeWidth={1.2} />

    {/* panel A labels */}
    <BandLabel x={137} top={38}>YD</BandLabel>
    <BandLabel x={188} top={40}>Allerφd</BandLabel>
    <BandLabel x={221} top={40}>OD</BandLabel>
    <BandLabel x={248} top={40}>Bφlling</BandLabel>
    <BandLabel x={280} top={53}>H1</BandLabel>
    <circle cx={395} cy={60} r={21} fill="white" stroke="#111" strokeWidth={1.5} />
    <text x={395} y={61} textAnchor="middle" dominantBaseline="central" fontSize={30} fontWeight="bold" fontFamily={SANS}>A</text>
    <Num x={402} y={97} color={C.hulu}>i</Num>
    <Num x={408} y={408} color="#bb33cc">ii</Num>
    <Num x={407} y={620} color={C.ch4}>iii</Num>
    <Num x={401} y={769} color="#777">iv</Num>
    <Num x={390} y={947} color="#2255ee">v</Num>
    <Num x={393} y={1104} color="#cc1111">vi</Num>
    <Plain x={203} y={897}>ACR</Plain>
    <Plain x={140} y={1062}>YD</Plain>
    <Plain x={208} y={1062}>B-A</Plain>
    <Plain x={299} y={1066}>H1</Plain>

    {/* panel B labels */}
    <BandLabel x={624} top={55}>YD4/3</BandLabel>
    <BandLabel x={683} top={52}>AL-4/3</BandLabel>
    <BandLabel x={725} top={53}>OD-4/3</BandLabel>
    <BandLabel x={748} top={52}>BL-4/3</BandLabel>
    <BandLabel x={793} top={67}>H6</BandLabel>
    <text x={756} y={122} textAnchor="middle" fontSize={14} fontFamily={SERIF}>200 yr</text>
    <line x1={744} x2={744} y1={127} y2={148} stroke="#111" strokeWidth={1.2} />
    <line x1={763} x2={763} y1={128} y2={148} stroke="#111" strokeWidth={1.2} />
    <line x1={728} x2={739} y1={135} y2={135} stroke="#111" strokeWidth={1.2} />
    <path d="M737,132 L743,135 L737,138 Z" fill="#111" />
    <line x1={779} x2={768} y1={136} y2={136} stroke="#111" strokeWidth={1.2} />
    <path d="M770,133 L764,136 L770,139 Z" fill="#111" />
    <circle cx={950} cy={60} r={21} fill="white" stroke="#111" strokeWidth={1.5} />
    <text x={950} y={61} textAnchor="middle" dominantBaseline="central" fontSize={30} fontWeight="bold" fontFamily={SANS}>B</text>
    <Num x={943} y={108} color="#119911">i</Num>
    <Num x={957} y={355} color="#111">ii</Num>
    <Num x={945} y={577} color={C.ch4}>iii</Num>
    <Num x={942} y={726} color="#777">iv</Num>
    <Num x={949} y={855} color="#2255ee">v</Num>
    <Num x={950} y={1142} color="#cc1111">vi</Num>
    <Plain x={680} y={825}>ACR-4/3</Plain>
    <Plain x={615} y={1027}>YD-4/3</Plain>
    <Plain x={693} y={1025}>B-A-4/3</Plain>
    <Plain x={777} y={1027}>H6</Plain>

    {/* legend */}
    <rect x={498} y={230} width={124} height={68} rx={9} fill="none" stroke="#222" strokeDasharray="6 4" />
    <circle cx={515} cy={243} r={4} fill="none" stroke="#cc33cc" strokeWidth={1.3} />
    <text x={533} y={243} dominantBaseline="central" fontSize={14} fontFamily={SERIF} fill="#cc44cc">Byrd</text>
    <path d="M515,259 L519.5,267 L510.5,267 Z" fill="#cc0000" />
    <text x={533} y={264} dominantBaseline="central" fontSize={14} fontFamily={SERIF} fill="#dd1111">Taylor Dome</text>
    <rect x={511} y={280} width={8} height={8} fill="#6f7fdd" />
    <text x={533} y={284} dominantBaseline="central" fontSize={14} fontFamily={SERIF} fill="#7788dd">Dome Fuji</text>
  </svg>
);

export default function App() {
  return (
    <div style={{ position: "absolute", left: 0, top: 0, width: 1133, height: 1301, background: "#fff", overflow: "hidden" }}>
      <div style={{ position: "absolute", left: 0, top: 0 }}>
        <PanelA />
      </div>
      <div style={{ position: "absolute", left: 450, top: 0 }}>
        <PanelB />
      </div>
      <Overlay />
    </div>
  );
}
